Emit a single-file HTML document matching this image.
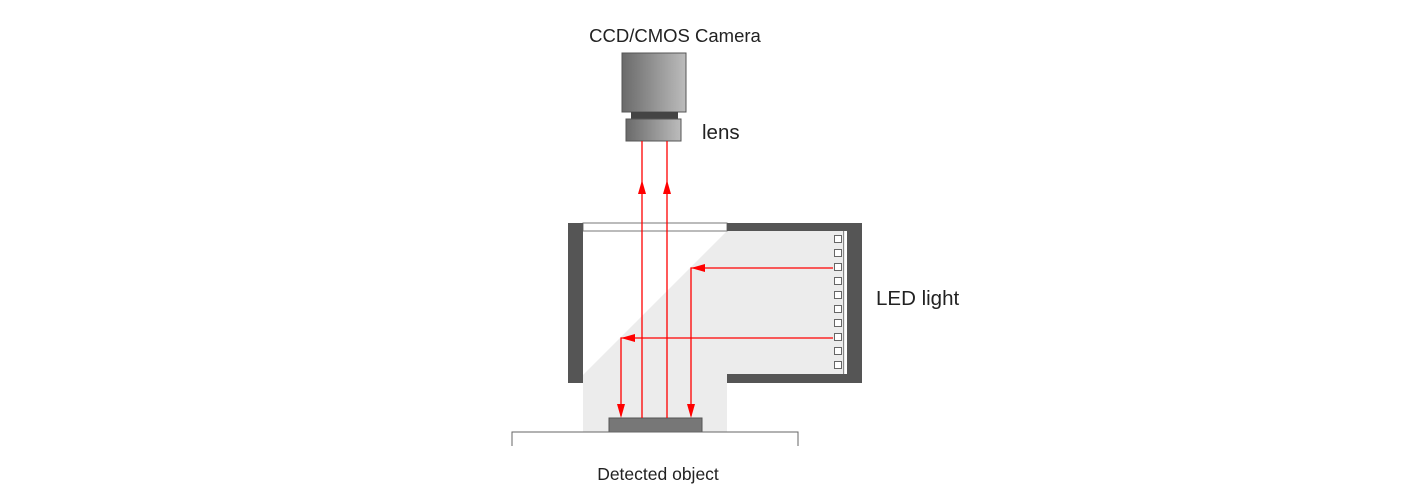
<!DOCTYPE html>
<html><head><meta charset="utf-8"><style>
html,body{margin:0;padding:0;background:#fff;width:1402px;height:500px;overflow:hidden}
text{font-family:"Liberation Sans",sans-serif;fill:#222}
</style></head><body>
<svg width="1402" height="500" viewBox="0 0 1402 500" xmlns="http://www.w3.org/2000/svg">
<defs>
<linearGradient id="g" x1="0" x2="1"><stop offset="0" stop-color="#6a6a6a"/><stop offset="1" stop-color="#bcbcbc"/></linearGradient>
</defs>
<text x="675" y="42" font-size="18.5" text-anchor="middle">CCD/CMOS Camera</text>
<rect x="622" y="53" width="64" height="59" fill="url(#g)" stroke="#555" stroke-width="1"/>
<rect x="631" y="112" width="47" height="7" fill="#444"/>
<rect x="626" y="119" width="55" height="22" fill="url(#g)" stroke="#555" stroke-width="1"/>
<text x="702" y="139" font-size="20.5">lens</text>
<polygon points="583,375 727,231 845,231 845,374 727,374 727,432 583,432" fill="#ececec"/>
<rect x="583" y="223" width="144" height="8" fill="#fff" stroke="#777" stroke-width="1"/>
<rect x="568" y="223" width="15" height="160" fill="#555"/>
<rect x="727" y="223" width="135" height="8" fill="#555"/>
<rect x="847" y="223" width="15" height="160" fill="#555"/>
<rect x="727" y="374" width="135" height="9" fill="#555"/>
<line x1="843.5" y1="231" x2="843.5" y2="374" stroke="#888" stroke-width="1"/>
<g fill="#fff" stroke="#666" stroke-width="1">
<rect x="834.5" y="235.5" width="7" height="7"/><rect x="834.5" y="249.5" width="7" height="7"/>
<rect x="834.5" y="263.5" width="7" height="7"/><rect x="834.5" y="277.5" width="7" height="7"/>
<rect x="834.5" y="291.5" width="7" height="7"/><rect x="834.5" y="305.5" width="7" height="7"/>
<rect x="834.5" y="319.5" width="7" height="7"/><rect x="834.5" y="333.5" width="7" height="7"/>
<rect x="834.5" y="347.5" width="7" height="7"/><rect x="834.5" y="361.5" width="7" height="7"/>
</g>
<text x="876" y="305" font-size="20.5">LED light</text>
<rect x="609" y="418" width="93" height="14" fill="#777" stroke="#555" stroke-width="1"/>
<polyline points="512,446 512,432 798,432 798,446" fill="none" stroke="#666" stroke-width="1"/>
<text x="658" y="480" font-size="17.5" text-anchor="middle">Detected object</text>
<g stroke="#f00" stroke-width="1.3" fill="none">
<line x1="642" y1="141" x2="642" y2="418"/>
<line x1="667" y1="141" x2="667" y2="418"/>
<polyline points="833,268 691,268 691,416"/>
<polyline points="833,338 621,338 621,416"/>
</g>
<g fill="#f00">
<polygon points="642,180 638,194 646,194"/>
<polygon points="667,180 663,194 671,194"/>
<polygon points="691,268 705,264 705,272"/>
<polygon points="621,338 635,334 635,342"/>
<polygon points="691,418 687,404 695,404"/>
<polygon points="621,418 617,404 625,404"/>
</g>
</svg>
</body></html>
